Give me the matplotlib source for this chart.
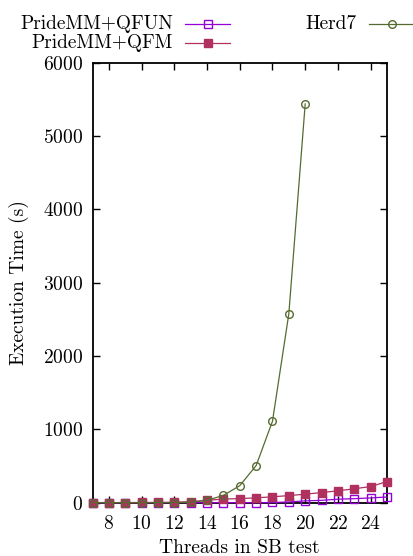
import matplotlib
matplotlib.use("Agg")
import matplotlib.pyplot as plt
from matplotlib.lines import Line2D
import numpy as np

plt.rcParams["font.family"] = ["cmr10", "DejaVu Serif"]
plt.rcParams["axes.formatter.use_mathtext"] = True
plt.rcParams["mathtext.fontset"] = "cm"

# data
threads = list(range(7, 26))
qfun = [1, 1, 1, 1, 1, 1, 1, 1, 1, 1, 1, 3, 10, 25, 32, 48, 55, 65, 78]
qfm = [2, 2, 2, 3, 4, 6, 14, 32, 50, 56, 66, 80, 97, 116, 138, 162, 190, 220, 288]
herd_threads = list(range(7, 21))
herd7 = [0, 0, 0, 0, 1, 2, 6, 32, 100, 232, 505, 1110, 2575, 5435]

labels = ["PrideMM+QFUN", "PrideMM+QFM", "Herd7"]
colors = ["#9400d3", "#b03060", "#556b2f"]

W, H = 413, 556
fs = 14
fig = plt.figure(figsize=(W / 100, H / 100), dpi=100)
ax = fig.add_axes([92.5 / W, 1 - 502.7 / H, (387 - 92.5) / W, (502.7 - 62.5) / H])

ax.plot(threads, qfun, color=colors[0], lw=0.9, marker="s", ms=6,
        mfc="none", mec=colors[0], mew=1.0, zorder=3, clip_on=False)
ax.plot(threads, qfm, color=colors[1], lw=0.9, marker="s", ms=6,
        mfc=colors[1], mec=colors[1], zorder=4, clip_on=False)
ax.plot(herd_threads, herd7, color=colors[2], lw=0.9, marker="o", ms=5.5,
        mfc="none", mec=colors[2], mew=1.0, zorder=5, clip_on=False)

ax.set_xlim(7, 25)
ax.set_ylim(0, 6000)
ax.set_xticks(range(8, 25, 2))
ax.set_yticks(range(0, 6001, 1000))
ax.tick_params(direction="in", top=True, right=True, length=5, width=1,
               labelsize=fs, pad=7)
ax.tick_params(axis="x", pad=9)
for s in ax.spines.values():
    s.set_linewidth(1.3)
ax.set_xlabel("Threads in SB test", fontsize=fs, labelpad=4)
ax.set_ylabel("Execution Time (s)", fontsize=fs, labelpad=10)

# key at top, gnuplot style: text right aligned, sample after it
def key_entry(x_text, y, label, color, marker, filled):
    fig.text(x_text / W, 1 - y / H, label, ha="right", va="center", fontsize=fs)
    fig.add_artist(Line2D([(x_text + 12) / W, (x_text + 57) / W],
                          [1 - y / H, 1 - y / H], transform=fig.transFigure,
                          color=color, lw=0.9))
    fig.add_artist(Line2D([(x_text + 34.5) / W], [1 - y / H],
                          transform=fig.transFigure, color=color,
                          marker=marker, ms=5.5 if marker == "o" else 6,
                          mfc=color if filled else "none", mec=color, mew=1.0))

key_entry(173, 24, labels[0], colors[0], "s", False)
key_entry(173, 43, labels[1], colors[1], "s", True)
key_entry(357, 24, labels[2], colors[2], "o", False)

fig.savefig("out.png", dpi=100)
